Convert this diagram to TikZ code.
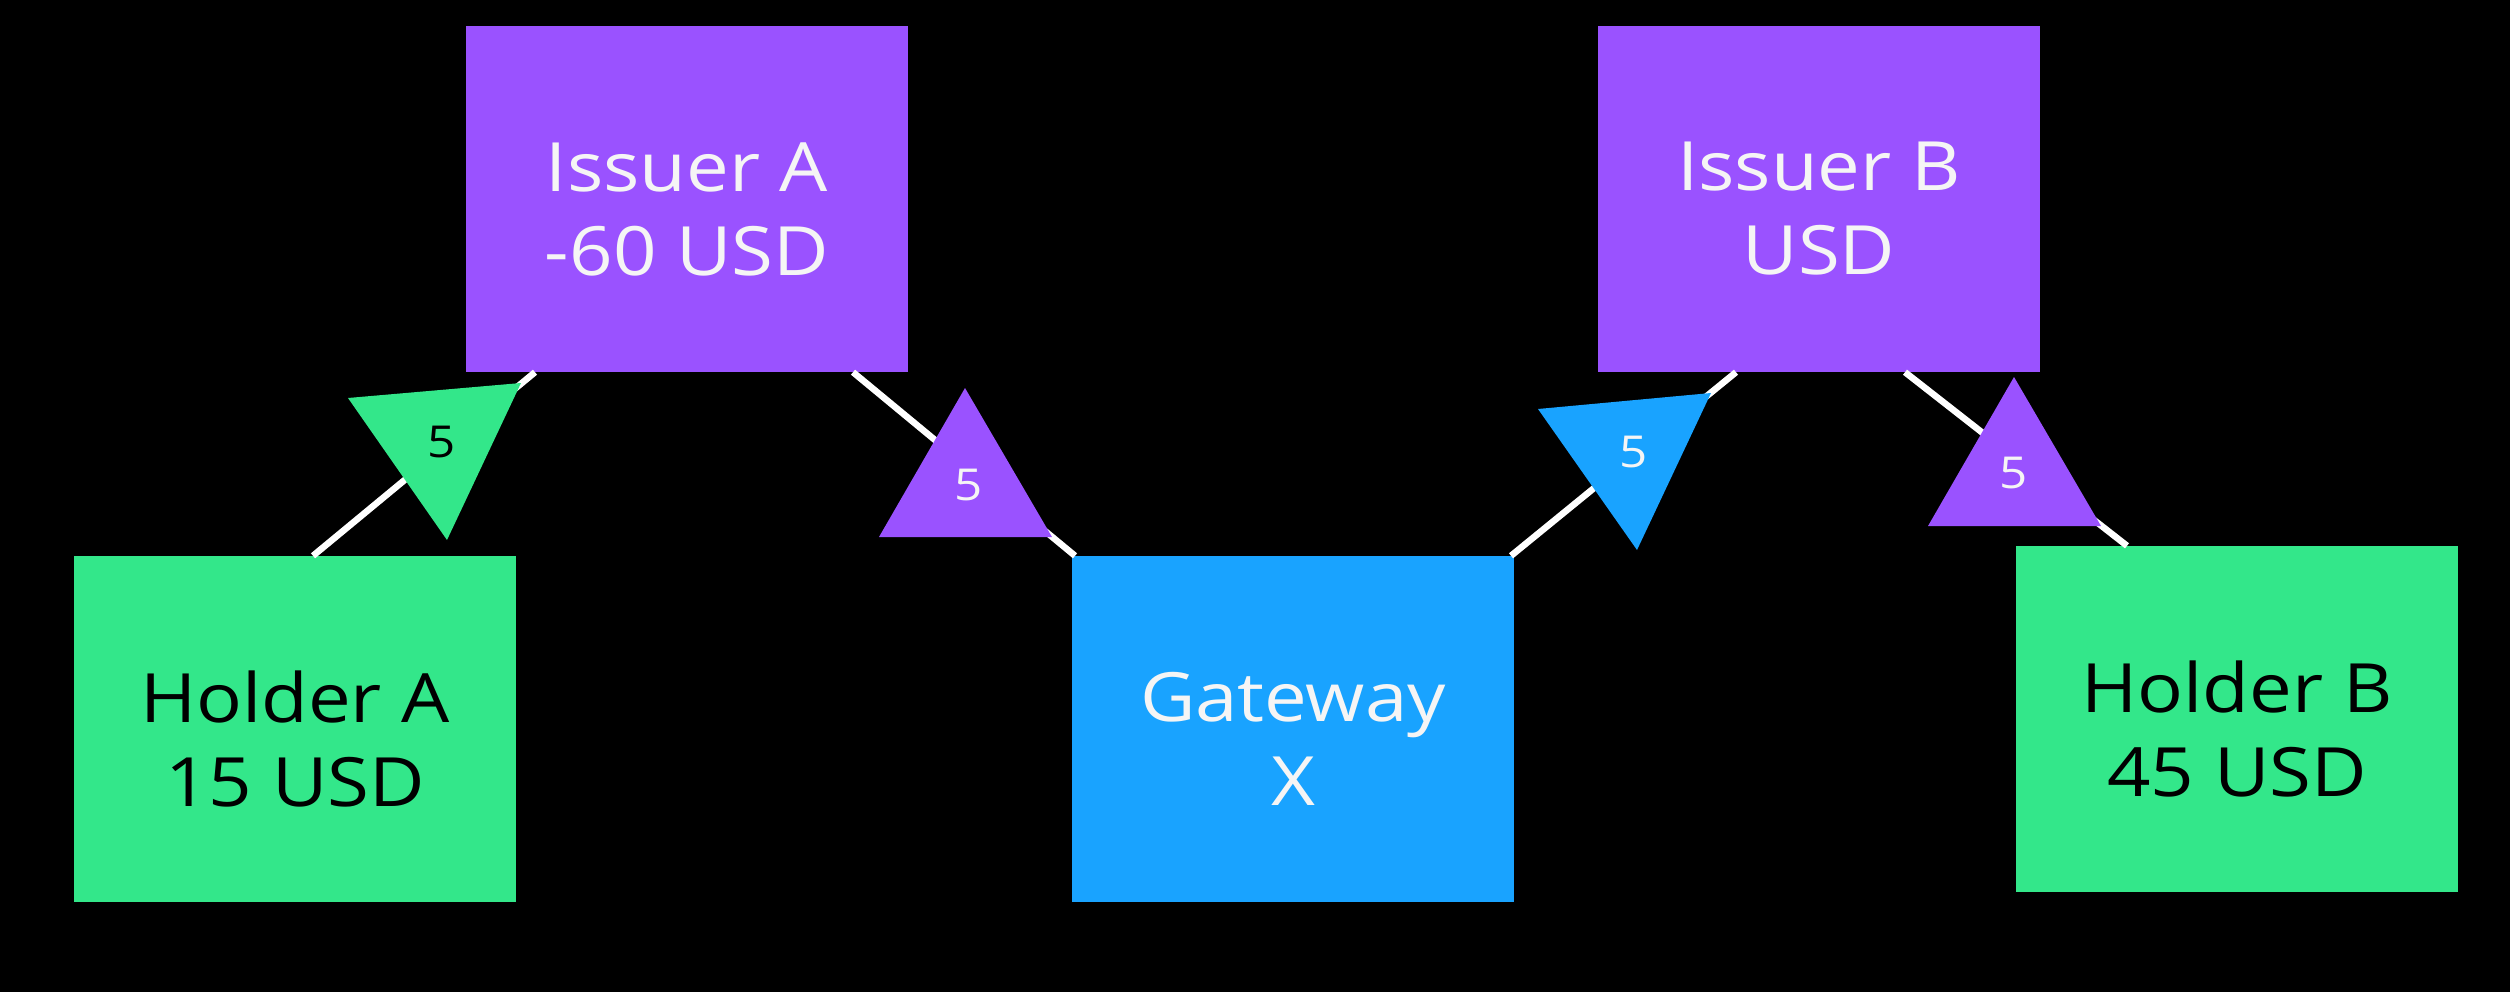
\documentclass[tikz,border=0pt]{standalone}
\usepackage{fontspec}
\setmainfont{Open Sans}[FakeStretch=1.12]
\usetikzlibrary{calc}
\definecolor{vpurple}{HTML}{9A52FF}
\definecolor{vgreen}{HTML}{33E78A}
\definecolor{vblue}{HTML}{19A3FF}
\definecolor{offwhite}{HTML}{F5F5F5}
\begin{document}
\begin{tikzpicture}[x=1pt,y=-1pt,
  box/.style={rectangle, minimum width=442pt, minimum height=346pt, inner sep=0pt},
  boxtext/.style={inner sep=0pt, align=center, font=\fontsize{68}{84}\selectfont},
  issuer/.style={box, fill=vpurple},
  holder/.style={box, fill=vgreen},
  gatewaybox/.style={box, fill=vblue},
  link/.style={draw=white, line width=6.5pt},
  lbl/.style={inner sep=0pt, font=\fontsize{44}{50}\selectfont}
]
\fill[black] (0,0) rectangle (2510,992);
\useasboundingbox (0,0) rectangle (2510,992);

% boxes
\node[issuer] (issuerA) at (687,199) {};
\node[boxtext, text=offwhite] (issuerAtext) at ([yshift=-10pt]issuerA.center) {Issuer A\\-60 USD};
\node[holder] (holderA) at (295,729) {};
\node[boxtext, text=black] (holderAtext) at ([yshift=-10pt]holderA.center) {Holder A\\15 USD};
\node[gatewaybox] (gateway) at (1293,729) {};
\node[boxtext, text=offwhite] (gatewaytext) at ([yshift=-10pt]gateway.center) {Gateway\\X};
\node[issuer] (issuerB) at (1819,199) {};
\node[boxtext, text=offwhite] (issuerBtext) at ([yshift=-10pt]issuerB.center) {Issuer B\\USD};
\node[holder] (holderB) at (2237,719) {};
\node[boxtext, text=black] (holderBtext) at ([yshift=-10pt]holderB.center) {Holder B\\45 USD};

% links
\draw[link] ($(holderA.north)+(18,0)$) -- ($(issuerA.south)+(-152,0)$);
\draw[link] ($(issuerA.south)+(166,0)$) -- ($(gateway.north)+(-218,0)$);
\draw[link] ($(gateway.north)+(218,0)$) -- ($(issuerB.south)+(-83,0)$);
\draw[link] ($(issuerB.south)+(86,0)$) -- ($(holderB.north)+(-110,0)$);

% triangles
\coordinate (t1a) at (348,398); \coordinate (t1b) at (521,383); \coordinate (t1c) at (447,540);
\fill[vgreen] (t1a) -- (t1b) -- (t1c) -- cycle;
\node[lbl, text=black] (w1) at (442,442) {5};

\coordinate (t2a) at (965,388); \coordinate (t2b) at (879,537); \coordinate (t2c) at (1052,537);
\fill[vpurple] (t2a) -- (t2b) -- (t2c) -- cycle;
\node[lbl, text=offwhite] (w2) at (969,485) {5};

\coordinate (t3a) at (1538,409); \coordinate (t3b) at (1711,393); \coordinate (t3c) at (1637,550);
\fill[vblue] (t3a) -- (t3b) -- (t3c) -- cycle;
\node[lbl, text=offwhite] (w3) at (1634,452) {5};

\coordinate (t4a) at (2014,377); \coordinate (t4b) at (1928,526); \coordinate (t4c) at (2101,526);
\fill[vpurple] (t4a) -- (t4b) -- (t4c) -- cycle;
\node[lbl, text=offwhite] (w4) at (2014,473) {5};
\end{tikzpicture}
\end{document}
